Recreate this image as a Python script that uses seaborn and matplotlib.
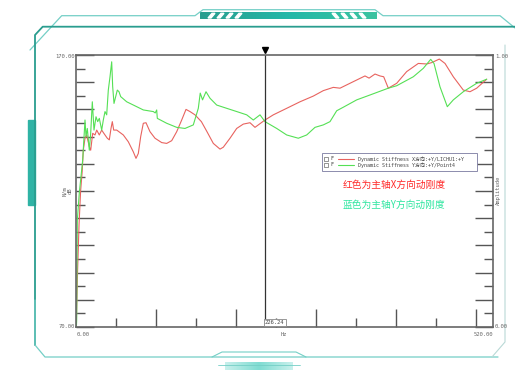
import pandas as pd
import numpy as np
import matplotlib.pyplot as plt
import seaborn as sns
from matplotlib.patches import Rectangle, Polygon

sns.set_theme(style="white")
plt.rcParams["font.family"] = ["DejaVu Sans", "Noto Sans CJK SC"]

# Dynamic stiffness curves (Hz, dB)
x_hz = [0.5, 2, 4, 6, 8, 9.5, 11.7, 13.9, 15.5, 17.3, 19.1, 21.7, 24.7, 26.9, 30.3,
        33.4, 35.5, 37.7, 40.7, 43.3, 45.5, 47.2, 49, 52.9, 61.5, 68, 74.5, 78, 81, 84.1,
        87.5, 91, 96.2, 102.7, 111.4, 117.9, 124.4, 130.9, 137.4, 143, 148.2, 154.7, 163,
        169.9, 178.5, 187.2, 191.5, 200.2, 208.9, 217.5, 226.2, 232.7, 237, 245.7, 256.5,
        273.9, 291.2, 308.5, 321.5, 334.5, 343.2, 360.5, 375.7, 381, 388.7, 395.2, 400,
        406, 416.9, 429.9, 445, 455.9, 462.4, 472.3, 479.7, 490.5, 503.5, 512.2, 520.9, 533.9]
x_db = [72, 90, 108, 120, 127, 135, 139.4, 140.6, 138.5, 136.3, 135, 141.2, 140.6, 142.4,
        140.6, 142.4, 141.5, 140.6, 139.4, 138.8, 143, 145.5, 142.4, 142.4, 140.6, 138.1,
        134.4, 132, 133.8, 140, 144.9, 145.1, 141.8, 139.4, 137.8, 137.5, 138.5, 141.8,
        146.1, 150, 149.2, 148, 145.5, 142, 137.5, 135.4, 136.1, 139.4, 143, 144.6, 145.1,
        143.4, 144.3, 146.1, 148, 150.4, 152.8, 154.9, 156.9, 158.1, 157.8, 160.2, 162.3,
        161.5, 163, 162.3, 162, 157.8, 159.6, 163.9, 166.9, 166.7, 167.2, 168.5, 166.9,
        162, 157.1, 156.5, 157.8, 161.1]

y_hz = [0.5, 0.9, 1.7, 4.3, 8.7, 11.7, 13, 14.7, 17.3, 19.1, 21.2, 23.4, 26, 28.2, 30.3,
        33.4, 35.5, 37.7, 39.9, 42, 44.2, 46.4, 47.7, 49.4, 51.6, 53.7, 55.9, 58.1, 65.9,
        78.9, 87.5, 100.5, 103, 104.9, 105.7, 117.9, 130.9, 141.7, 152.5, 159, 161.5,
        164.5, 169, 174.2, 182.9, 195.9, 209, 221.9, 230.5, 239.2, 245.7, 260.9, 273.9,
        289, 299.9, 310.7, 321.5, 330.2, 338.9, 347.5, 364.9, 382.2, 406, 416.9, 438.5,
        451.5, 461.1, 465.4, 473.2, 482.7, 490.5, 503.5, 520.9, 533.9]
y_db = [70, 72.6, 109.3, 119.3, 131.4, 146.1, 140, 143, 135, 141.2, 152.8, 142.4, 147.3,
        145.5, 146.7, 142.4, 146.1, 149.2, 148, 157.1, 162, 167.5, 158.3, 152.2, 154.7,
        157.1, 156.5, 154.7, 152.8, 151, 149.8, 149.2, 148.7, 149.8, 146.7, 144.9, 143.4,
        143, 144.3, 150.4, 156, 153.5, 156.5, 154.1, 151.6, 150.4, 149.2, 148, 146.1, 148,
        145.5, 143, 140.6, 139.4, 140.6, 143.4, 144.3, 145.5, 149.5, 150.8, 153.5, 155.3,
        157.8, 158.7, 162, 165.1, 168.4, 166.9, 158.3, 151, 153.5, 156.5, 159.6, 161.1]

series_names = ["Dynamic Stiffness X方向:+Y/LICHU1:+Y", "Dynamic Stiffness Y方向:+Y/Point4"]
series_colors = ["#e8635f", "#55e055"]
cursor_hz = 245.7
cursor_label = "226.24"
notes = ["红色为主轴X方向动刚度", "蓝色为主轴Y方向动刚度"]
note_colors = ["#ff2a2a", "#2ee6a0"]

df = pd.concat([
    pd.DataFrame({"Hz": x_hz, "dB": x_db, "curve": series_names[0]}),
    pd.DataFrame({"Hz": y_hz, "dB": y_db, "curve": series_names[1]}),
])

fig = plt.figure(figsize=(5.15, 3.73), dpi=100)
W, H = 515, 373

# decorative frame behind everything (pixel coordinates)
bg = fig.add_axes([0, 0, 1, 1], zorder=0)
bg.set_xlim(0, W)
bg.set_ylim(H, 0)
bg.axis("off")
light = "#74cfc6"
dark = "#2a9d8f"
bg.plot([30, 61.7, 195, 203, 375, 383, 500, 515], [50, 15.7, 15.7, 9.7, 9.7, 15.7, 15.7, 28],
        color=light, lw=0.9)
bg.plot([35, 35, 42.7, 515], [345, 35, 26.7, 26.7], color=dark, lw=1.3)
grad = np.linspace(0, 1, 100).reshape(1, -1)
bg.imshow(grad, extent=[200, 377, 19, 12.3], cmap=sns.blend_palette(["#2a9d8f", "#22b8a8", "#3cc3a0"], as_cmap=True),
          aspect="auto", zorder=1)
for sx in [208, 217, 226, 235]:
    bg.add_patch(Polygon([[sx, 18], [sx + 3, 18], [sx + 7, 13.3], [sx + 4, 13.3]], color="white", zorder=2))
for sx in [332, 341, 350, 359]:
    bg.add_patch(Polygon([[sx, 13.3], [sx + 3, 13.3], [sx + 7, 18], [sx + 4, 18]], color="white", zorder=2))
bg.add_patch(Rectangle((28, 120), 7, 85, color="#2fb3a5", zorder=1))
bg.plot([35, 35, 45, 498], [300, 345, 357, 357], color=light, lw=0.9)
bg.plot([505, 505, 492], [45, 342, 357], color="#b9d9d6", lw=0.8)
bg.plot([212, 222, 296, 306], [357, 352, 352, 357], color=light, lw=0.8)
bg.imshow(grad, extent=[225, 293, 370, 362], cmap=sns.blend_palette(["#c8f0ec", "#7fdcd2", "#c8f0ec"], as_cmap=True),
          aspect="auto", zorder=1)
bg.plot([218, 300], [365, 365], color=light, lw=0.6)

# main plot
ax = fig.add_axes([76 / W, 46 / H, 417 / W, 272 / H], zorder=1)
sns.lineplot(data=df, x="Hz", y="dB", hue="curve", palette=series_colors, sort=False,
             estimator=None, lw=0.8, legend=False, ax=ax)
ax.set_xlim(0, 542.1)
ax.set_ylim(70, 170)
ax.set_xlabel("")
ax.set_ylabel("")
ax.set_xticks(np.arange(104, 530, 104))
ax.set_xticks(np.arange(52, 530, 104), minor=True)
ax.set_yticks(np.arange(70, 171, 10))
ax.set_yticks(np.arange(75, 170, 10), minor=True)
ax.tick_params(which="both", direction="in", labelleft=False, labelbottom=False,
               left=True, right=True, bottom=True, color="#555", width=1)
ax.tick_params(which="major", length=13)
ax.tick_params(which="minor", length=6.5)
for s in ax.spines.values():
    s.set_color("#666")
    s.set_linewidth(1.2)
ax.set_facecolor("white")

ax.axvline(cursor_hz, color="#333", lw=0.9)
ax.plot([cursor_hz], [171.9], marker="v", ms=4, color="black", clip_on=False)
ax.text(cursor_hz, 70.7, cursor_label, ha="left", va="bottom", fontsize=4,
        family="DejaVu Sans Mono", color="#444",
        bbox=dict(boxstyle="square,pad=0.25", fc="white", ec="#888", lw=0.6))

# overlay texts (pixel coordinates)
ov = fig.add_axes([0, 0, 1, 1], zorder=3)
ov.set_xlim(0, W)
ov.set_ylim(H, 0)
ov.axis("off")
mono = ["DejaVu Sans Mono", "Noto Sans CJK SC"]
small = dict(fontsize=4, color="#666", family=mono)
ov.text(75, 56, "170.00", ha="right", va="center", **small)
ov.text(75, 326, "70.00", ha="right", va="center", **small)
ov.text(77, 334, "0.00", ha="left", va="center", **small)
ov.text(493, 334, "520.00", ha="right", va="center", **small)
ov.text(284, 334, "Hz", ha="center", va="center", **small)
ov.text(495, 56, "1.00", ha="left", va="center", **small)
ov.text(495, 326, "0.00", ha="left", va="center", **small)
ov.text(67, 191, "N/m\ndB", ha="center", va="center", rotation=90, linespacing=1.1, **small)
ov.text(498, 190, "Amplitude", ha="center", va="center", rotation=90, **small)

# legend box
ov.add_patch(Rectangle((321.5, 153.3), 155, 17.7, fc="white", ec="#7a7aa0", lw=0.6))
for i, (name, col) in enumerate(zip(series_names, series_colors)):
    yy = 158.7 + i * 6.2
    ov.add_patch(Rectangle((324, yy - 2), 4, 4, fc="white", ec="#444", lw=0.4))
    ov.text(330.5, yy, "F", ha="left", va="center", fontsize=3.6, color="#333", family=mono)
    ov.plot([338, 354], [yy, yy], color=col, lw=0.8)
    ov.text(358, yy, name, ha="left", va="center", fontsize=3.6, color="#444", family=mono)

for i, (note, col) in enumerate(zip(notes, note_colors)):
    ov.text(394, 185 + i * 20, note, ha="center", va="center", fontsize=7, color=col,
            family=["Noto Sans CJK SC", "DejaVu Sans"])

fig.savefig("out.png", dpi=100)
